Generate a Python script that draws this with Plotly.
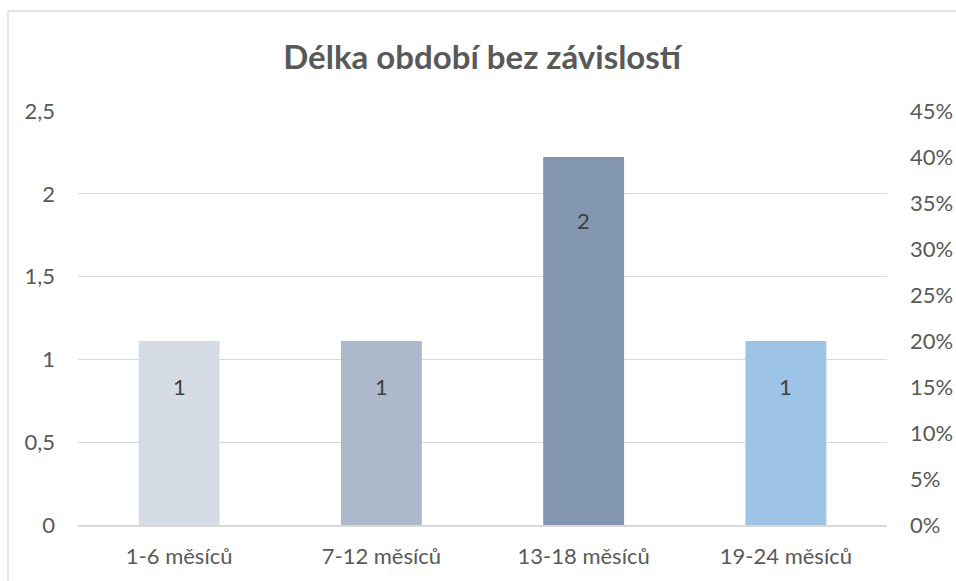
import plotly.graph_objects as go

categories = ["1-6 měsíců", "7-12 měsíců", "13-18 měsíců", "19-24 měsíců"]
counts = [1, 1, 2, 1]
shares = [0.20, 0.20, 0.40, 0.20]
bar_colors = ["#D6DCE5", "#ADB9CA", "#8497B0", "#9DC3E6"]
title_text = "Délka období bez závislostí"

W, H = 956, 581
ml, mr, mt, mb = 78, 69, 111, 56
FONT = "Lato, 'Open Sans', sans-serif"
GRAY = "#595959"

fig = go.Figure()
fig.add_trace(go.Bar(
    x=categories, y=shares, yaxis="y2",
    marker=dict(color=bar_colors, line=dict(width=0)),
    width=0.4, hoverinfo="skip", showlegend=False,
))
fig.add_trace(go.Scatter(
    x=categories, y=counts, yaxis="y", mode="markers",
    marker=dict(opacity=0), hoverinfo="skip", showlegend=False,
))

for c, n in zip(categories, counts):
    fig.add_annotation(x=c, y=n, xref="x", yref="y", text=str(n),
                       showarrow=False, yshift=-27,
                       font=dict(family=FONT, size=22, color="#404040"))

# chart-area border (left and top edges visible in the frame)
pw = W - ml - mr
ph = H - mt - mb
bx0 = (8 - ml) / pw
bx1 = (W + 20 - ml) / pw
by0 = -(H + 20 - (H - mb)) / ph
by1 = (H - mb - 11) / ph
border = dict(color="#D9D9D9", width=1.3)
fig.add_shape(type="line", xref="paper", yref="paper",
              x0=bx0, x1=bx0, y0=by0, y1=by1, line=border, layer="below")
fig.add_shape(type="line", xref="paper", yref="paper",
              x0=bx0, x1=bx1, y0=by1, y1=by1, line=border, layer="below")

fig.update_layout(
    width=W, height=H, autosize=False,
    margin=dict(l=ml, r=mr, t=mt, b=mb, autoexpand=False),
    paper_bgcolor="white", plot_bgcolor="white",
    separators=", ",
    font=dict(family=FONT, size=22, color=GRAY),
    title=dict(text="<b>" + title_text + "</b>", x=(486 - ml) / pw, xanchor="center",
               y=1 - 57 / H, yanchor="middle",
               font=dict(family=FONT, size=33, color=GRAY)),
    xaxis=dict(showgrid=False, showline=True, linecolor="#D9D9D9", linewidth=1.5,
               ticks="", ticklabelstandoff=11, automargin=False,
               tickfont=dict(size=22, color=GRAY)),
    yaxis=dict(range=[0, 2.5], dtick=0.5, tick0=0, showgrid=True,
               gridcolor="#D9D9D9", gridwidth=1.3, zeroline=False,
               showline=False, ticks="", ticklabelstandoff=22, automargin=False,
               tickfont=dict(size=22, color=GRAY)),
    yaxis2=dict(range=[0, 0.45], dtick=0.05, tick0=0, overlaying="y", side="right",
                showgrid=False, zeroline=False, showline=False, ticks="",
                tickformat=".0%", ticklabelstandoff=22, automargin=False,
                tickfont=dict(size=22, color=GRAY)),
    bargap=0.6,
)

fig.write_html("out.html", config={"displayModeBar": False},
               post_script="document.body.style.margin='0';")
